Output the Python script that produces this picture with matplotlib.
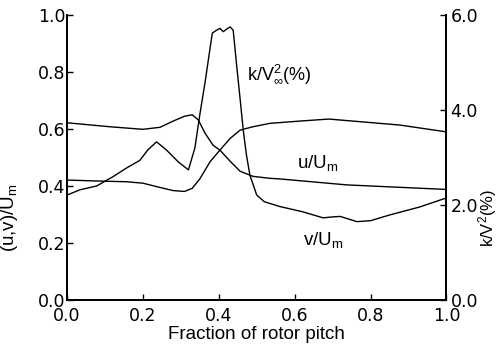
import matplotlib
matplotlib.use("Agg")
import matplotlib.pyplot as plt

plt.rcParams["font.family"] = ["Liberation Sans", "DejaVu Sans"]
plt.rcParams["mathtext.fontset"] = "custom"
plt.rcParams["mathtext.rm"] = "Liberation Sans"
plt.rcParams["mathtext.it"] = "Liberation Sans"

# -----------------------------------------------------
# Data (fraction of rotor pitch)
# -----------------------------------------------------
u_x = [0.0, 0.07, 0.157, 0.2, 0.245, 0.28, 0.31, 0.33, 0.35, 0.377, 0.403,
       0.43, 0.456, 0.49, 0.535, 0.614, 0.69, 0.877, 1.0]
u_val = [0.421, 0.418, 0.415, 0.41, 0.395, 0.384, 0.381, 0.392, 0.425, 0.485,
         0.526, 0.567, 0.596, 0.608, 0.62, 0.628, 0.635, 0.614, 0.59]

v_x = [0.0, 0.113, 0.2, 0.245, 0.28, 0.31, 0.33, 0.346, 0.364, 0.385, 0.403,
       0.43, 0.456, 0.49, 0.535, 0.56, 0.737, 1.0]
v_val = [0.622, 0.608, 0.599, 0.606, 0.628, 0.645, 0.650, 0.632, 0.585, 0.543,
         0.526, 0.487, 0.452, 0.434, 0.427, 0.425, 0.404, 0.388]

k_x = [0.0, 0.034, 0.078, 0.122, 0.157, 0.192, 0.213, 0.236, 0.262, 0.293,
       0.32, 0.337, 0.35, 0.364, 0.377, 0.383, 0.394, 0.403, 0.412, 0.42,
       0.43, 0.438, 0.447, 0.456, 0.465, 0.473, 0.482, 0.5, 0.52, 0.56,
       0.62, 0.675, 0.70, 0.72, 0.764, 0.80, 0.85, 0.93, 1.0]
k_pct = [2.21, 2.32, 2.40, 2.60, 2.78, 2.94, 3.16, 3.33, 3.16, 2.91,
         2.74, 3.20, 3.90, 4.59, 5.30, 5.62, 5.68, 5.72, 5.65, 5.70,
         5.75, 5.68, 4.95, 4.25, 3.54, 3.05, 2.63, 2.21, 2.07, 1.97,
         1.86, 1.73, 1.75, 1.76, 1.65, 1.67, 1.79, 1.96, 2.15]

x_ticks = [0.0, 0.2, 0.4, 0.6, 0.8, 1.0]
left_ticks = [0.0, 0.2, 0.4, 0.6, 0.8, 1.0]
right_ticks = [0.0, 2.0, 4.0, 6.0]

TICK_FONT = {"family": "DejaVu Sans", "size": 12.5}
TEXT_SIZE = 13.5

# -----------------------------------------------------
# Figure
# -----------------------------------------------------
fig = plt.figure(figsize=(4.98, 3.54), dpi=100)
ax = fig.add_axes([0.1345, 0.1525, 0.762, 0.805])
ax2 = ax.twinx()

ax.plot(u_x, u_val, color="black", lw=1.0)
ax.plot(v_x, v_val, color="black", lw=1.0)
ax2.plot(k_x, k_pct, color="black", lw=1.0)

ax.set_xlim(0, 1)
ax.set_ylim(0, 1)
ax2.set_ylim(0, 6)

ax.set_xticks(x_ticks)
ax.set_xticklabels([f"{t:.1f}" for t in x_ticks], fontdict=TICK_FONT)
ax.set_yticks(left_ticks)
ax.set_yticklabels([f"{t:.1f}" for t in left_ticks], fontdict=TICK_FONT)
ax2.set_yticks(right_ticks)
ax2.set_yticklabels([f"{t:.1f}" for t in right_ticks], fontdict=TICK_FONT)

for a in (ax, ax2):
    a.spines["top"].set_visible(False)
    for s in ("left", "right", "bottom"):
        a.spines[s].set_linewidth(1.3)

ax.tick_params(axis="both", direction="in", length=4, width=1.0)
ax.tick_params(axis="y", pad=1)
ax.tick_params(axis="x", pad=5)
ax2.tick_params(axis="y", direction="in", length=4, width=1.0, pad=3)

ax.set_xlabel("Fraction of rotor pitch", fontsize=TEXT_SIZE, labelpad=1)
ax.set_ylabel(r"(u,v)/U$_{\rm m}$", fontsize=TEXT_SIZE)
ax.yaxis.set_label_coords(-0.125, 0.29)
# right axis label sits tight against the figure edge
fig.text(0.98, 0.385, r"k/V$^{2}$(%)", fontsize=12, rotation=90,
         ha="center", va="center")

ax.text(0.474, 0.79, r"k/V$_{\infty}^{2}$(%)", fontsize=13, va="center", ha="left")
ax.text(0.606, 0.48, r"u/U$_{\rm m}$", fontsize=TEXT_SIZE, va="center", ha="left")
ax.text(0.622, 0.21, r"v/U$_{\rm m}$", fontsize=TEXT_SIZE, va="center", ha="left")

fig.savefig("out.png", dpi=100)
